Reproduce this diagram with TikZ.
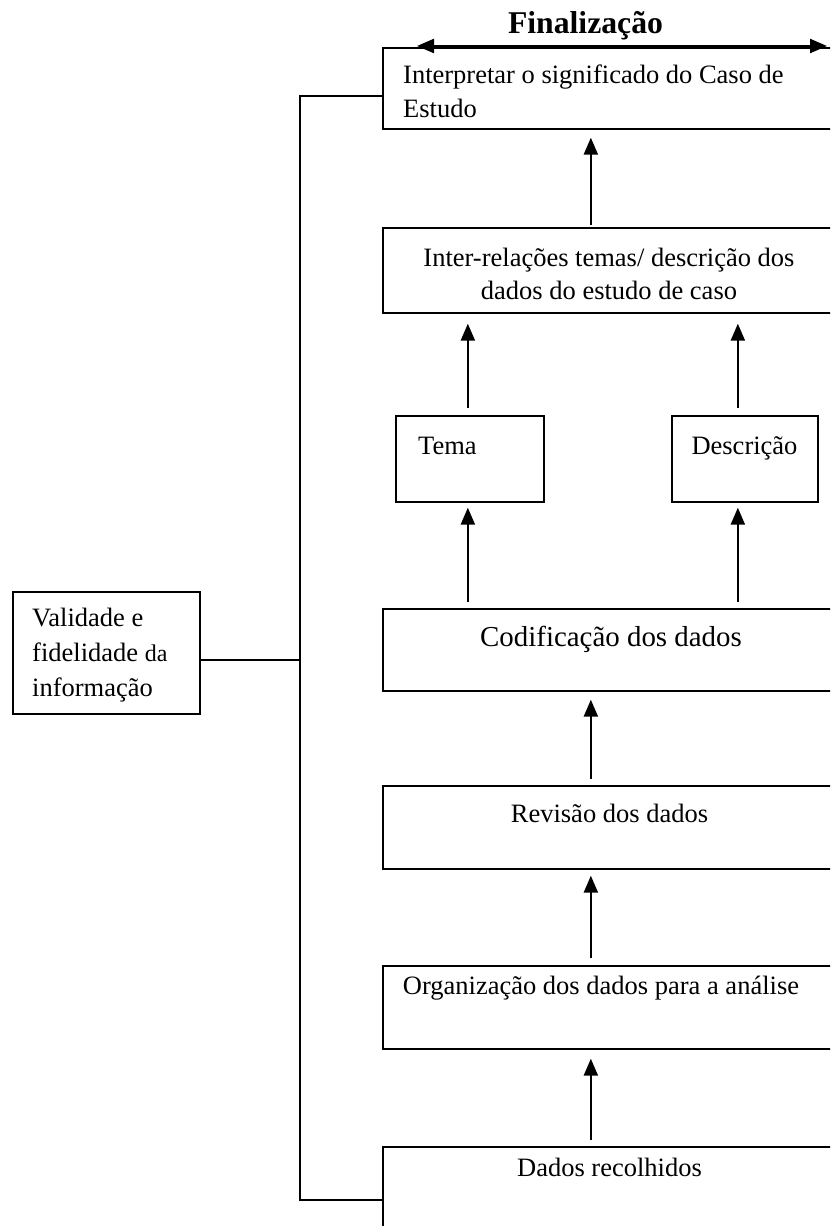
\documentclass[tikz,border=0pt]{standalone}
\usepackage{fontspec}
\setmainfont{Liberation Serif}
\usetikzlibrary{arrows.meta}

\tikzset{
  box/.style={draw, line width=1.7pt, rectangle, inner sep=0pt, anchor=north west},
  lbl/.style={inner sep=0pt, anchor=base, font=\fontsize{26.5}{34}\selectfont},
  lblw/.style={lbl, anchor=base west},
  tip/.tip={Triangle[length=17pt,width=14pt]},
  arr/.style={line width=2.3pt, -tip},
  wire/.style={line width=1.7pt},
}

\begin{document}
\begin{tikzpicture}[x=1pt,y=-1pt]
\clip (0,0) rectangle (830,1226);

% process boxes (open to the right)
\node[box, minimum width=454, minimum height=81] (b1) at (382,47) {};
\node[box, minimum width=454, minimum height=85] (b2) at (382,227) {};
\node[box, minimum width=148, minimum height=86] (tema) at (395,415) {};
\node[box, minimum width=146, minimum height=86] (desc) at (671,415) {};
\node[box, minimum width=454, minimum height=82] (b3) at (382,608) {};
\node[box, minimum width=454, minimum height=83] (b4) at (382,785) {};
\node[box, minimum width=454, minimum height=83] (b5) at (382,965) {};
\node[box, minimum width=454, minimum height=100] (b6) at (382,1146) {};
\node[box, minimum width=187, minimum height=122] (v) at (12,591) {};

% texts
\node[lbl, font=\bfseries\fontsize{31.7}{38}\selectfont] (fin) at (585.5,33) {Finalização};
\node[lblw] (t1a) at (403,83) {Interpretar o significado do Caso de};
\node[lblw] (t1b) at (403,117) {Estudo};
\node[lbl] (t2a) at (609,266) {Inter-relações temas/ descrição dos};
\node[lbl] (t2b) at (609,299) {dados do estudo de caso};
\node[lblw] (tt) at (418,454) {Tema};
\node[lbl] (td) at (744.5,454) {Descrição};
\node[lbl, font=\fontsize{28.9}{34}\selectfont] (t3) at (611,646) {Codificação dos dados};
\node[lbl] (t4) at (609.5,822) {Revisão dos dados};
\node[lbl] (t5) at (601,994) {Organização dos dados para a análise};
\node[lbl] (t6) at (609.5,1176) {Dados recolhidos};
\node[lblw] (tv1) at (32,626) {Validade e};
\node[lblw] (tv2) at (32,661) {fidelidade {\fontsize{24}{34}\selectfont da}};
\node[lblw] (tv3) at (32,696) {informação};

% finalisation span
\coordinate (fl) at (417,46);
\coordinate (fr) at (827,46);
\draw[line width=2.3pt, tip-tip] (fl) -- (fr);

% upward flow
\draw[arr] ([xshift=-19pt,yshift=2pt]b2.north) -- ([xshift=-19pt,yshift=-8pt]b1.south);
\draw[arr] ([xshift=-2pt,yshift=7pt]tema.north) -- ([xshift=-142pt,yshift=-10pt]b2.south);
\draw[arr] ([xshift=-7pt,yshift=7pt]desc.north) -- ([xshift=128pt,yshift=-10pt]b2.south);
\draw[arr] ([xshift=-142pt,yshift=6pt]b3.north) -- ([xshift=-2pt,yshift=-5pt]tema.south);
\draw[arr] ([xshift=128pt,yshift=6pt]b3.north) -- ([xshift=-7pt,yshift=-5pt]desc.south);
\draw[arr] ([xshift=-19pt,yshift=6pt]b4.north) -- ([xshift=-19pt,yshift=-8pt]b3.south);
\draw[arr] ([xshift=-19pt,yshift=7pt]b5.north) -- ([xshift=-19pt,yshift=-6pt]b4.south);
\draw[arr] ([xshift=-19pt,yshift=6pt]b6.north) -- ([xshift=-19pt,yshift=-9pt]b5.south);

% validity bracket
\coordinate (jt) at (300,96);
\coordinate (jb) at (300,1200);
\draw[wire] (b1.west |- jt) -- (jt) -- (jb) -- (b6.west |- jb);
\draw[wire] ([yshift=-7pt]v.east) -- ([yshift=-7pt]v.east -| jt);
\end{tikzpicture}
\end{document}
